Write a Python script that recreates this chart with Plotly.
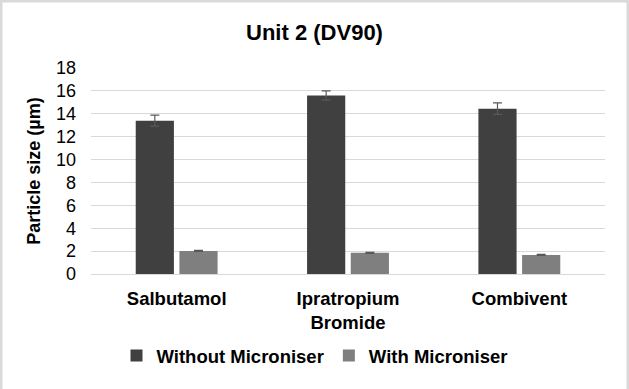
import plotly.graph_objects as go

categories = ["Salbutamol", "Ipratropium<br>Bromide", "Combivent"]
without_vals = [13.4, 15.6, 14.45]
without_err = [0.48, 0.4, 0.5]
with_vals = [2.02, 1.85, 1.67]
with_err = [0.05, 0.05, 0.05]
series_names = ["Without Microniser", "With Microniser"]
y_ticks = list(range(0, 19, 2))

font_family = "Liberation Sans, Arial, sans-serif"
W, H = 629, 389
ML, MR, MT, MB = 91, 24, 68, 115
PW, PH = W - ML - MR, H - MT - MB

fig = go.Figure()
fig.add_trace(go.Bar(
    x=categories, y=without_vals, name="<b>" + series_names[0] + "</b>",
    marker=dict(color="#404040", line=dict(width=0)),
    error_y=dict(type="data", array=without_err, visible=True,
                 color="#595959", thickness=1.2, width=4.5),
))
fig.add_trace(go.Bar(
    x=categories, y=with_vals, name="<b>" + series_names[1] + "</b>",
    marker=dict(color="#7f7f7f", line=dict(width=0)),
    error_y=dict(type="data", array=with_err, visible=True,
                 color="#595959", thickness=1.2, width=4.5),
))

bw = 2.5
fig.update_layout(
    width=W, height=H,
    margin=dict(l=ML, r=MR, t=MT, b=MB, autoexpand=False),
    paper_bgcolor="white", plot_bgcolor="white",
    barmode="group", bargap=0.49, bargroupgap=0.126,
    font=dict(family=font_family, color="#000000"),
    title=dict(text="<b>Unit 2 (DV90)</b>", x=0.5, xanchor="center",
               y=1 - 32 / H, yanchor="middle",
               font=dict(size=22, color="#000000", family=font_family)),
    showlegend=True,
    legend=dict(orientation="h", xref="container", x=0.5, xanchor="center",
                yref="container", y=1 - 356 / H, yanchor="middle",
                font=dict(size=18.5, color="#000000", family=font_family),
                itemwidth=30, traceorder="normal"),
    yaxis=dict(range=[0, 18], tickvals=y_ticks, showgrid=True,
               gridcolor="#d9d9d9", gridwidth=1, zeroline=False,
               showline=False, ticks="", ticklabelstandoff=14,
               tickprefix="<b>", ticksuffix="</b>",
               tickfont=dict(size=18, color="#000000", family=font_family),
               title=dict(text="<b>Particle size (µm)</b>", standoff=10,
                          font=dict(size=18, color="#000000", family=font_family))),
    xaxis=dict(showline=True, linecolor="#d9d9d9", linewidth=1, ticks="",
               ticklabelstandoff=8,
               tickprefix="<b>", ticksuffix="</b>",
               tickfont=dict(size=18.5, color="#000000", family=font_family)),
    shapes=[dict(type="rect", xref="paper", yref="paper",
                 x0=(bw / 2 - ML) / PW, x1=(W - bw / 2 - ML) / PW,
                 y0=(MB - H + bw / 2) / PH, y1=(H - MB - bw / 2) / PH,
                 line=dict(color="#d9d9d9", width=bw))],
)

fig.write_html("out.html")
